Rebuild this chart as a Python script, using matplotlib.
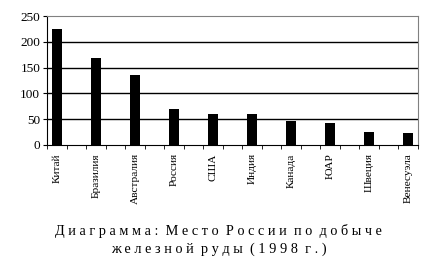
import matplotlib
matplotlib.use("Agg")
import matplotlib.pyplot as plt
import numpy as np

countries = ["Китай", "Бразилия", "Австралия", "Россия", "США", "Индия",
             "Канада", "ЮАР", "Швеция", "Венесуэла"]
values = [225, 169, 136, 70, 60, 60, 46, 43, 25, 23]
yticks = [0, 50, 100, 150, 200, 250]

plt.rcParams["font.family"] = ["Liberation Serif", "DejaVu Serif"]

fig = plt.figure(figsize=(4.37, 2.68), dpi=100)
ax = fig.add_axes([0.108, 0.459, 0.848, 0.481])

# как в Excel: между странами пустые ячейки
n_slots = 2 * len(countries) - 1
x = np.arange(len(countries)) * 2
ax.bar(x, values, width=0.47, color="black", zorder=3)

ax.set_xlim(-0.5, n_slots - 0.5)
ax.set_ylim(0, 250)
ax.set_yticks(yticks)
ax.tick_params(axis="y", labelsize=9.5, length=3, direction="out", pad=2)

ax.set_xticks(x)
ax.set_xticklabels(countries, rotation=90, fontsize=8.2)
ax.tick_params(axis="x", length=0, pad=6)
ax.set_xticks(np.arange(-0.5, n_slots), minor=True)
ax.tick_params(axis="x", which="minor", length=3, direction="out", color="black")

for v in yticks[1:-1]:
    ax.axhline(v, color="black", lw=1.0, zorder=1)

ax.spines["left"].set_color("black")
ax.spines["bottom"].set_color("black")
ax.spines["top"].set_color("#808080")
ax.spines["right"].set_color("#808080")

title1 = "Диаграмма: Место России по добыче"
title2 = "железной руды (1998 г.)"
spaced = lambda s: "  ".join(" ".join(w) for w in s.split(" "))
fig.text(0.5, 0.139, spaced(title1), ha="center", va="center", fontsize=10.3)
fig.text(0.5, 0.071, spaced(title2), ha="center", va="center", fontsize=10.3)

fig.savefig("out.png", dpi=100)
